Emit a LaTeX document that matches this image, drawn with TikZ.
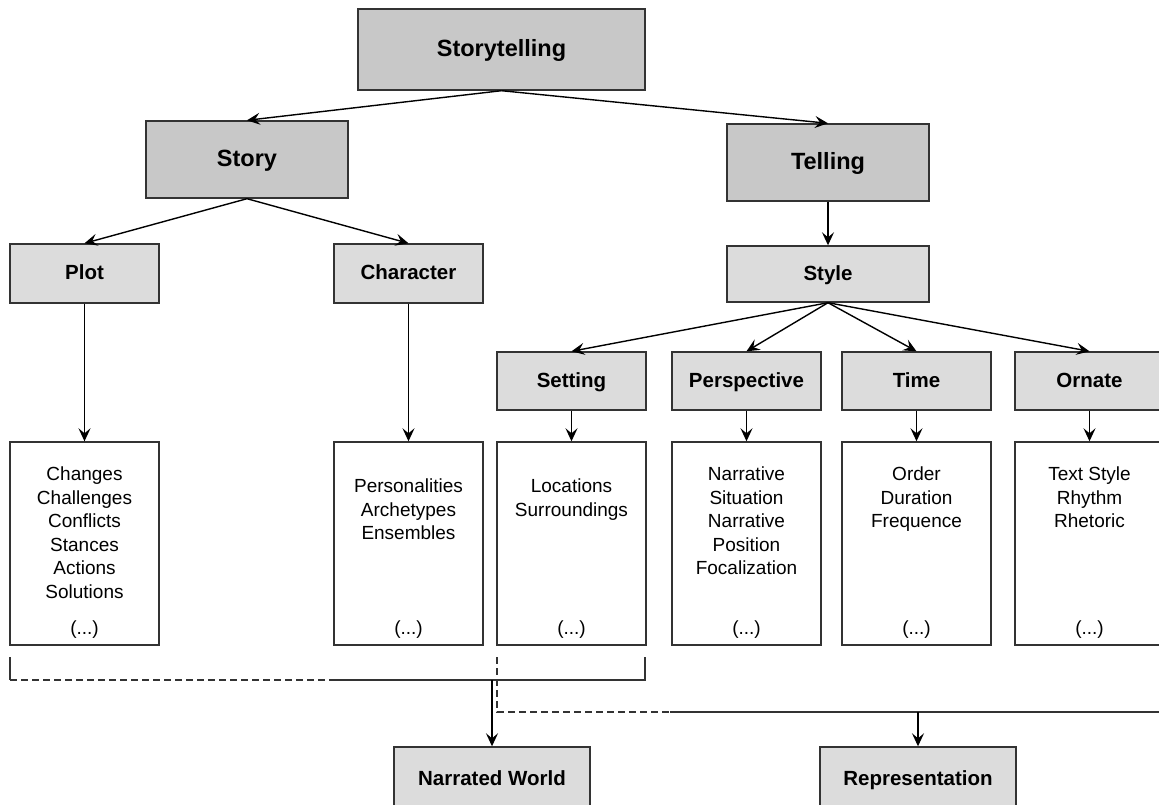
\documentclass[tikz,border=0pt]{standalone}
\usepackage{fontspec}
\setmainfont{Liberation Sans}
\usetikzlibrary{arrows.meta}
\definecolor{darkfill}{HTML}{C8C8C8}
\definecolor{lightfill}{HTML}{DCDCDC}
\definecolor{edge}{HTML}{333333}
\begin{document}
\begin{tikzpicture}[x=1pt,y=-1pt,
  basebox/.style={draw=edge, line width=1.4pt, inner sep=0pt, align=center},
  topbox/.style={basebox, fill=darkfill, text height=14pt, text depth=0pt, font=\fontsize{23.5}{26}\selectfont\bfseries},
  midbox/.style={basebox, fill=lightfill, text height=12pt, text depth=0pt, font=\fontsize{20.5}{24}\selectfont\bfseries},
  contentbox/.style={basebox, fill=white, minimum width=149pt, minimum height=203pt},
  contenttext/.style={inner sep=0pt, align=center, anchor=north, font=\fontsize{19}{23.5}\selectfont},
  arr/.style={draw=black, line width=1.4pt, -{Stealth[length=13pt,width=12pt,inset=5pt]}},
  brk/.style={draw=edge, line width=1.4pt},
  dbrk/.style={draw=edge, line width=1.4pt, dash pattern=on 7pt off 4pt}
]
\useasboundingbox (0,0) rectangle (1159,805);

% top level
\node[topbox, minimum width=287pt, minimum height=81pt] (storytelling) at (501.5,49.5) {Storytelling};
\node[topbox, minimum width=202pt, minimum height=77pt] (story) at (247,159.5) {Story};
\node[topbox, minimum width=202pt, minimum height=77pt] (telling) at (828,162.5) {Telling};

% second level
\node[midbox, minimum width=149pt, minimum height=59pt] (plot) at (84.5,273.5) {Plot};
\node[midbox, minimum width=149pt, minimum height=59pt] (character) at (408.5,273.5) {Character};
\node[midbox, minimum width=202pt, minimum height=56pt] (style) at (828,274) {Style};

\node[midbox, minimum width=149pt, minimum height=58pt] (setting) at (571.5,381) {Setting};
\node[midbox, minimum width=149pt, minimum height=58pt] (perspective) at (746.5,381) {Perspective};
\node[midbox, minimum width=149pt, minimum height=58pt] (time) at (916.5,381) {Time};
\node[midbox, minimum width=149pt, minimum height=58pt] (ornate) at (1089.5,381) {Ornate};

% content boxes
\node[contentbox] (plotc) at (84.5,543.5) {};
\node[contentbox] (charc) at (408.5,543.5) {};
\node[contentbox] (settc) at (571.5,543.5) {};
\node[contentbox] (persc) at (746.5,543.5) {};
\node[contentbox] (timec) at (916.5,543.5) {};
\node[contentbox] (ornc) at (1089.5,543.5) {};

\node[contenttext] (plott) at (84.5,467) {Changes\\Challenges\\Conflicts\\Stances\\Actions\\Solutions};
\node[contenttext] (chart) at (408.5,479) {Personalities\\Archetypes\\Ensembles};
\node[contenttext] (settt) at (571.5,479) {Locations\\Surroundings};
\node[contenttext] (perst) at (746.5,467) {Narrative\\Situation\\Narrative\\Position\\Focalization};
\node[contenttext] (timet) at (916.5,467) {Order\\Duration\\Frequence};
\node[contenttext] (ornt) at (1089.5,467) {Text Style\\Rhythm\\Rhetoric};

\foreach \n/\x in {plote/84.5, chare/408.5, sette/571.5, perse/746.5, timee/916.5, orne/1089.5}
  \node[contenttext] (\n) at (\x,621) {(...)};

% bottom boxes
\node[midbox, minimum width=196pt, minimum height=64pt] (world) at (492,779) {Narrated World};
\node[midbox, minimum width=196pt, minimum height=64pt] (repr) at (918,779) {Representation};

% tree arrows
\draw[arr] (storytelling.south) -- (story.north);
\draw[arr] (storytelling.south) -- (telling.north);
\draw[arr] (story.south) -- (plot.north);
\draw[arr] (story.south) -- (character.north);
\draw[arr] (telling.south) -- (style.north);
\draw[arr] (style.south) -- (setting.north);
\draw[arr] (style.south) -- (perspective.north);
\draw[arr] (style.south) -- (time.north);
\draw[arr] (style.south) -- (ornate.north);
\draw[arr] (plot.south) -- (plotc.north);
\draw[arr] (character.south) -- (charc.north);
\draw[arr] (setting.south) -- (settc.north);
\draw[arr] (perspective.south) -- (persc.north);
\draw[arr] (time.south) -- (timec.north);
\draw[arr] (ornate.south) -- (ornc.north);

% brackets
\coordinate (b1a) at (10,657);
\coordinate (b1b) at (10,680);
\coordinate (b1c) at (330,680);
\coordinate (b1d) at (645,680);
\coordinate (b1e) at (645,657);
\coordinate (b1m) at (492,680);
\draw[brk] (b1a) -- (b1b);
\draw[dbrk] (b1b) -- (b1c);
\draw[brk] (b1c) -- (b1d) -- (b1e);
\draw[arr] (b1m) -- (world.north);

\coordinate (b2a) at (497,657);
\coordinate (b2b) at (497,712);
\coordinate (b2c) at (670,712);
\coordinate (b2d) at (1165,712);
\coordinate (b2m) at (918,712);
\draw[dbrk] (b2a) -- (b2b) -- (b2c);
\draw[brk] (b2c) -- (b2d);
\draw[arr] (b2m) -- (repr.north);
\end{tikzpicture}
\end{document}
